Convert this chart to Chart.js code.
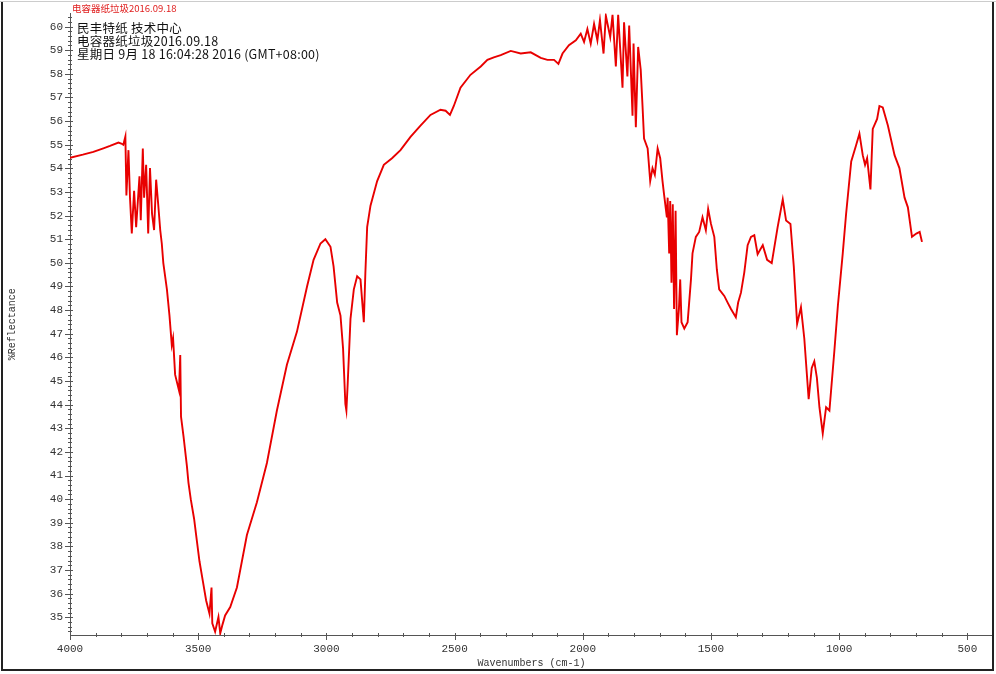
<!DOCTYPE html>
<html>
<head>
<meta charset="utf-8">
<script src="https://cdn.jsdelivr.net/npm/chart.js@4.4.0/dist/chart.umd.min.js"></script>
<style>
  html, body { margin: 0; padding: 0; background: #fff; }
  #wrap { position: absolute; left: 0; top: 0; width: 996px; height: 674px; }
</style>
</head>
<body>
<div id="wrap"><canvas id="chartIR" width="996" height="674"></canvas></div>
<script>
// wavenumber (cm-1) / %Reflectance
const wavenumbers = [
  4000, 3950, 3909, 3870, 3844, 3811, 3800, 3792, 3784, 3780, 3772, 3766, 3759, 3750,
  3742, 3729, 3724, 3716, 3711, 3703, 3695, 3688, 3680, 3672, 3664, 3656, 3648, 3642,
  3636, 3622, 3612, 3603, 3598, 3590, 3575, 3570, 3567, 3557, 3544, 3538, 3529, 3516,
  3508, 3495, 3482, 3469, 3456, 3448, 3445, 3434, 3421, 3414, 3405, 3395, 3375, 3349,
  3310, 3271, 3232, 3193, 3154, 3115, 3075, 3050, 3023, 3004, 2984, 2972, 2958, 2945,
  2935, 2926, 2922, 2917, 2906, 2893, 2880, 2867, 2854, 2848, 2841, 2828, 2802, 2776,
  2744, 2711, 2672, 2633, 2594, 2555, 2535, 2518, 2503, 2477, 2438, 2398, 2372, 2347,
  2320, 2281, 2242, 2203, 2164, 2138, 2112, 2095, 2079, 2054, 2027, 2008, 1995, 1982,
  1969, 1956, 1943, 1933, 1919, 1910, 1893, 1884, 1871, 1862, 1845, 1839, 1826, 1819,
  1806, 1802, 1793, 1784, 1774, 1767, 1761, 1747, 1737, 1728, 1719, 1708, 1698, 1689,
  1683, 1672, 1669, 1663, 1659, 1654, 1649, 1644, 1638, 1633, 1625, 1620, 1615, 1604,
  1591, 1578, 1572, 1559, 1546, 1533, 1520, 1511, 1500, 1487, 1477, 1468, 1448, 1435,
  1422, 1403, 1394, 1383, 1370, 1357, 1344, 1331, 1318, 1298, 1281, 1263, 1240, 1220,
  1207, 1190, 1177, 1164, 1149, 1136, 1119, 1107, 1097, 1087, 1077, 1064, 1051, 1038,
  1019, 1005, 986, 973, 953, 934, 921, 908, 899, 891, 878, 869, 852, 843,
  830, 810, 784, 765, 745, 732, 716, 699, 686, 677
];
const reflectance = [
  54.45, 54.58, 54.70, 54.85, 54.95, 55.09, 55.05, 55.00, 55.35, 52.85, 54.77, 52.76, 51.24, 53.05,
  51.51, 53.66, 51.80, 54.84, 52.76, 54.15, 51.24, 54.01, 52.07, 51.39, 53.52, 52.48, 51.38, 50.82,
  49.99, 48.88, 47.77, 46.52, 46.81, 45.27, 44.60, 46.10, 43.49, 42.64, 41.40, 40.70, 40.00, 39.17,
  38.48, 37.37, 36.54, 35.71, 35.15, 36.26, 34.74, 34.39, 35.01, 34.32, 34.70, 35.08, 35.43, 36.26,
  38.48, 39.87, 41.53, 43.75, 45.69, 47.08, 49.02, 50.13, 50.82, 51.00, 50.68, 49.85, 48.32, 47.77,
  46.38, 44.03, 43.75, 44.86, 47.63, 48.88, 49.43, 49.30, 47.49, 49.57, 51.51, 52.42, 53.46, 54.15,
  54.43, 54.77, 55.33, 55.81, 56.26, 56.48, 56.44, 56.26, 56.64, 57.41, 57.96, 58.31, 58.59, 58.70,
  58.79, 58.97, 58.86, 58.91, 58.68, 58.59, 58.59, 58.42, 58.86, 59.21, 59.42, 59.70, 59.35, 59.90,
  59.28, 60.11, 59.42, 60.28, 58.86, 60.46, 59.56, 60.50, 58.31, 60.50, 57.41, 60.18, 57.89, 60.04,
  56.23, 59.28, 55.74, 59.14, 58.17, 56.64, 55.26, 54.84, 53.46, 54.01, 53.73, 54.84, 54.43, 53.46,
  52.90, 51.93, 52.76, 50.40, 52.62, 49.16, 52.48, 48.05, 52.21, 46.94, 48.05, 49.30, 47.49, 47.22,
  47.49, 49.30, 50.40, 51.10, 51.31, 51.93, 51.38, 52.28, 51.65, 51.10, 49.71, 48.88, 48.60, 48.32,
  48.05, 47.70, 48.32, 48.74, 49.60, 50.75, 51.10, 51.17, 50.37, 50.75, 50.13, 49.99, 51.51, 52.69,
  51.79, 51.65, 49.85, 47.42, 48.12, 46.80, 44.23, 45.55, 45.83, 45.14, 43.89, 42.78, 43.89, 43.75,
  46.24, 48.19, 50.40, 52.07, 54.29, 54.98, 55.47, 54.56, 54.15, 54.43, 53.11, 55.67, 56.09, 56.64,
  56.58, 55.81, 54.56, 54.01, 52.76, 52.35, 51.10, 51.24, 51.31, 50.89
];
const xTicks = [4000, 3500, 3000, 2500, 2000, 1500, 1000, 500];
const yTicks = [35, 36, 37, 38, 39, 40, 41, 42, 43, 44, 45, 46, 47, 48, 49, 50, 51, 52, 53, 54, 55, 56, 57, 58, 59, 60];
const headerRed = '电容器纸垃圾2016.09.18';
const headerLines = ['民丰特纸 技术中心', '电容器纸垃圾2016.09.18', '星期日 9月 18 16:04:28 2016 (GMT+08:00)'];

const monoFont = '"Liberation Mono", "Noto Sans CJK SC", monospace';
const cjkFont = '"Noto Sans CJK SC", sans-serif';
const axisColor = '#555';

const points = wavenumbers.map((w, i) => ({ x: w, y: reflectance[i] }));

// minor tick marks, frame and the header text
const decorPlugin = {
  id: 'decor',
  afterDraw(chart) {
    const ctx = chart.ctx;
    const xs = chart.scales.x;
    const ys = chart.scales.y;
    const area = chart.chartArea;
    ctx.save();
    ctx.strokeStyle = axisColor;
    ctx.lineWidth = 1;
    ctx.beginPath();
    for (let v = 344; v <= 605; v += 2) {
      const y = Math.round(ys.getPixelForValue(v / 10)) + 0.5;
      if (v % 10 === 0) {
        ctx.moveTo(area.left - 5, y); ctx.lineTo(area.left + 3, y);
      } else {
        ctx.moveTo(area.left - 2, y); ctx.lineTo(area.left + 2, y);
      }
    }
    for (let w = 4000; w >= 400; w -= 100) {
      const x = Math.round(xs.getPixelForValue(w)) + 0.5;
      if (w % 500 === 0) {
        ctx.moveTo(x, area.bottom - 2); ctx.lineTo(x, area.bottom + 5);
      } else {
        ctx.moveTo(x, area.bottom - 2); ctx.lineTo(x, area.bottom + 2);
      }
    }
    ctx.stroke();

    // outer frame
    ctx.strokeStyle = '#222';
    ctx.lineWidth = 2;
    ctx.beginPath();
    ctx.moveTo(2, 1); ctx.lineTo(2, 670); ctx.lineTo(993, 670); ctx.lineTo(993, 1);
    ctx.stroke();
    ctx.strokeStyle = '#ccc';
    ctx.lineWidth = 1;
    ctx.beginPath();
    ctx.moveTo(0, 1.5); ctx.lineTo(996, 1.5);
    ctx.stroke();

    ctx.textBaseline = 'middle';
    ctx.textAlign = 'left';
    ctx.fillStyle = '#e02020';
    ctx.font = '9.5px ' + cjkFont;
    ctx.fillText(headerRed, 72, 8);
    ctx.fillStyle = '#111';
    ctx.font = '12.5px ' + cjkFont;
    ctx.letterSpacing = '0.25px';
    headerLines.forEach((t, i) => ctx.fillText(t, 77, 28 + i * 13));
    ctx.restore();
  }
};

new Chart(document.getElementById('chartIR'), {
  type: 'scatter',
  data: {
    datasets: [{
      data: points,
      showLine: true,
      borderColor: '#e80000',
      borderWidth: 1.9,
      pointRadius: 0,
      tension: 0
    }]
  },
  options: {
    responsive: false,
    animation: false,
    layout: { padding: { top: 3, right: 3, left: 0, bottom: 0 } },
    plugins: {
      legend: { display: false },
      tooltip: { enabled: false }
    },
    scales: {
      x: {
        type: 'linear',
        reverse: true,
        min: 400,
        max: 4000,
        afterFit: s => { s.height = 39; },
        afterBuildTicks: s => { s.ticks = xTicks.map(v => ({ value: v })); },
        grid: { display: false, drawTicks: false, tickLength: 0 },
        border: { display: true, color: axisColor, width: 1 },
        ticks: {
          autoSkip: false,
          maxRotation: 0,
          padding: 7,
          color: '#333',
          font: { family: monoFont, size: 11 },
          callback: v => String(v)
        },
        title: {
          display: true,
          text: 'Wavenumbers (cm-1)',
          color: '#333',
          font: { family: monoFont, size: 10 },
          padding: { top: 0, bottom: 5 }
        }
      },
      y: {
        min: 34.25,
        max: 60.55,
        afterFit: s => { s.width = 70; },
        afterBuildTicks: s => { s.ticks = yTicks.map(v => ({ value: v })); },
        grid: { display: false, drawTicks: false, tickLength: 0 },
        border: { display: true, color: axisColor, width: 1 },
        ticks: {
          padding: 7,
          color: '#333',
          font: { family: monoFont, size: 11 },
          callback: v => String(v)
        },
        title: {
          display: true,
          text: '%Reflectance',
          color: '#333',
          font: { family: monoFont, size: 10 },
          padding: { top: 6, bottom: 0 }
        }
      }
    }
  },
  plugins: [decorPlugin]
});
</script>
</body>
</html>
